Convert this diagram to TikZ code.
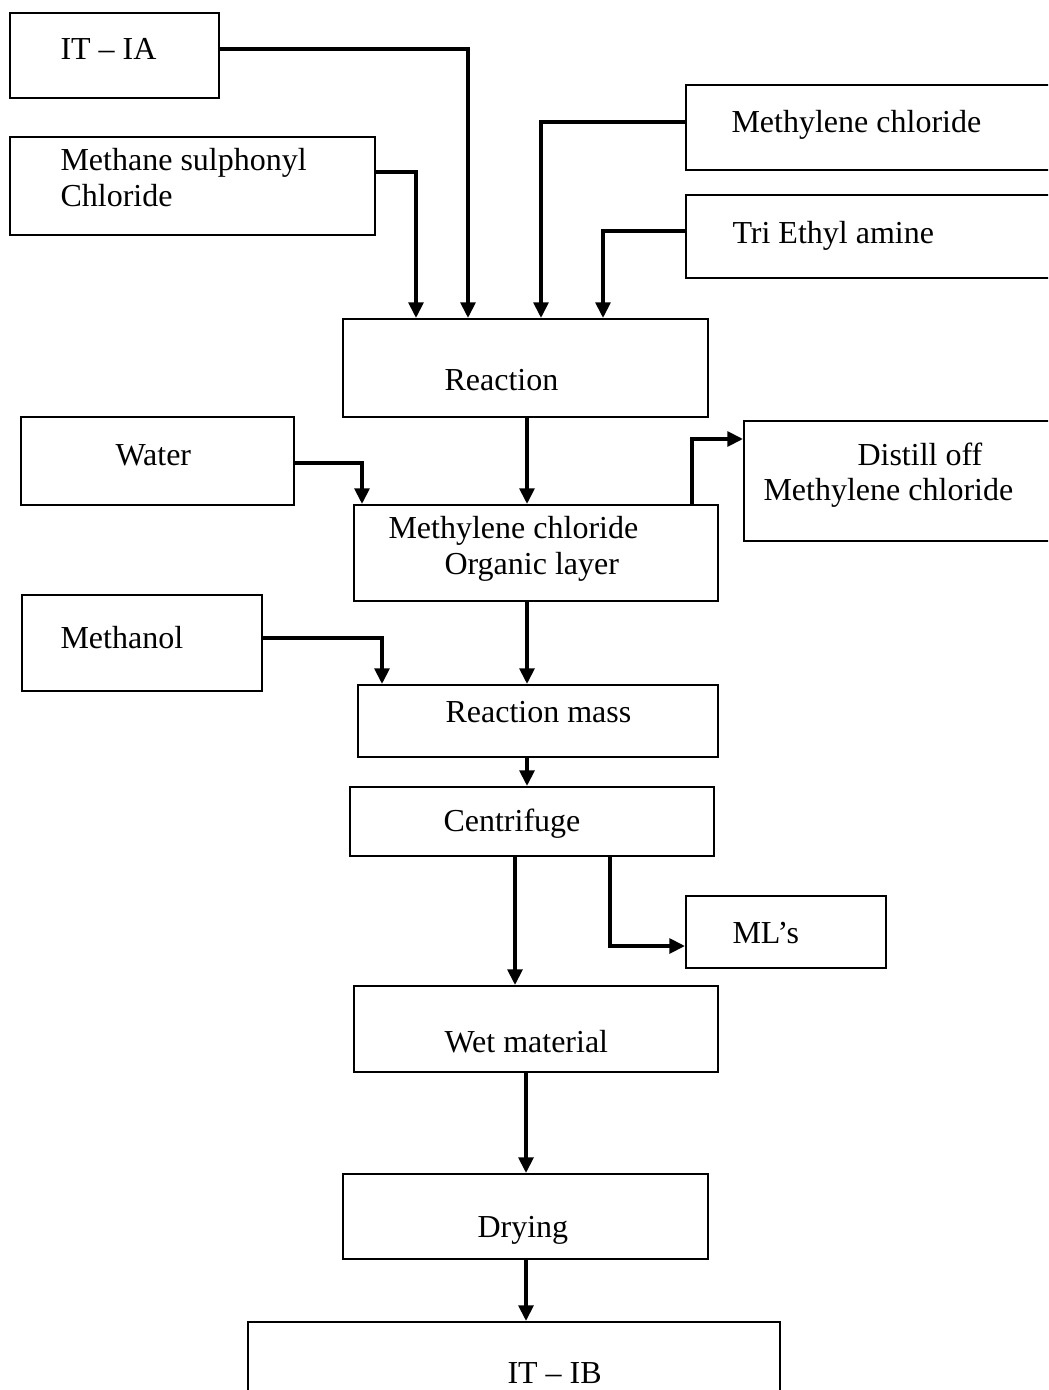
\documentclass[tikz,border=0pt]{standalone}
\usepackage{fontspec}
\setmainfont{Liberation Serif}
\usetikzlibrary{arrows.meta,fit}

\begin{document}
\begin{tikzpicture}[x=0.375pt,y=-0.375pt,
  box/.style={draw, line width=0.85pt, inner sep=0pt},
  txt/.style={inner sep=0pt, anchor=base west, font=\fontsize{12}{14}\selectfont},
  flow/.style={line width=1.15pt, -{Triangle[length=5.8pt,width=5.6pt]}}]

\clip (0,0) rectangle (1048,1390);

% process boxes
\node[box, fit={(10,13)(219,98)}]     (ia)   {};
\node[box, fit={(10,137)(375,235)}]   (msc)  {};
\node[box, fit={(686,85)(1070,170)}]  (mc)   {};
\node[box, fit={(686,195)(1070,278)}] (tea)  {};
\node[box, fit={(343,319)(708,417)}]  (rx)   {};
\node[box, fit={(21,417)(294,505)}]   (wat)  {};
\node[box, fit={(354,505)(718,601)}]  (org)  {};
\node[box, fit={(744,421)(1070,541)}] (dist) {};
\node[box, fit={(22,595)(262,691)}]   (meoh) {};
\node[box, fit={(358,685)(718,757)}]  (rm)   {};
\node[box, fit={(350,787)(714,856)}]  (cf)   {};
\node[box, fit={(686,896)(886,968)}]  (ml)   {};
\node[box, fit={(354,986)(718,1072)}] (wet)  {};
\node[box, fit={(343,1174)(708,1259)}] (dry) {};
\node[box, fit={(248,1322)(780,1420)}] (ib)  {};

% labels
\node[txt] (ia-t)   at (60,60)    {IT – IA};
\node[txt] (msc-t1) at (60,171)   {Methane sulphonyl};
\node[txt] (msc-t2) at (60,207)   {Chloride};
\node[txt] (mc-t)   at (731,133)  {Methylene chloride};
\node[txt] (tea-t)  at (732,244)  {Tri Ethyl amine};
\node[txt] (rx-t)   at (444,391)  {Reaction};
\node[txt] (wat-t)  at (115,466)  {Water};
\node[txt] (org-t1) at (388,538)  {Methylene chloride};
\node[txt] (org-t2) at (444,574)  {Organic layer};
\node[txt] (dist-t1) at (857,465) {Distill off};
\node[txt] (dist-t2) at (763,500) {Methylene chloride};
\node[txt] (meoh-t) at (60,648)   {Methanol};
\node[txt] (rm-t)   at (445,722)  {Reaction mass};
\node[txt] (cf-t)   at (443,831)  {Centrifuge};
\node[txt] (ml-t)   at (732,943)  {ML’s};
\node[txt] (wet-t)  at (444,1052) {Wet material};
\node[txt] (dry-t)  at (477,1237) {Drying};
\node[txt] (ib-t)   at (507,1383) {IT – IB};

% bend points of the feed lines
\coordinate (k-ia)   at (468,49);
\coordinate (k-msc)  at (416,172);
\coordinate (k-mc)   at (541,122);
\coordinate (k-tea)  at (603,231);
\coordinate (k-wat)  at (362,463);
\coordinate (k-dist) at (692,439);
\coordinate (k-meoh) at (382,638);
\coordinate (k-ml)   at (610,946);
\coordinate (x-main) at (527,0);
\coordinate (x-cf)   at (515,0);
\coordinate (x-dry)  at (526,0);

% feeds into the reaction
\draw[flow] (ia.east |- k-ia) -- (k-ia) -- (k-ia |- rx.north);
\draw[flow] (msc.east |- k-msc) -- (k-msc) -- (k-msc |- rx.north);
\draw[flow] (mc.west |- k-mc) -- (k-mc) -- (k-mc |- rx.north);
\draw[flow] (tea.west |- k-tea) -- (k-tea) -- (k-tea |- rx.north);

% main line and side streams
\draw[flow] (x-main |- rx.south) -- (x-main |- org.north);
\draw[flow] (wat.east |- k-wat) -- (k-wat) -- (k-wat |- org.north);
\draw[flow] (k-dist |- org.north) -- (k-dist) -- (dist.west |- k-dist);
\draw[flow] (x-main |- org.south) -- (x-main |- rm.north);
\draw[flow] (meoh.east |- k-meoh) -- (k-meoh) -- (k-meoh |- rm.north);
\draw[flow] (x-main |- rm.south) -- (x-main |- cf.north);
\draw[flow] (x-cf |- cf.south) -- (x-cf |- wet.north);
\draw[flow] (k-ml |- cf.south) -- (k-ml) -- (ml.west |- k-ml);
\draw[flow] (x-dry |- wet.south) -- (x-dry |- dry.north);
\draw[flow] (x-dry |- dry.south) -- (x-dry |- ib.north);

\end{tikzpicture}
\end{document}
